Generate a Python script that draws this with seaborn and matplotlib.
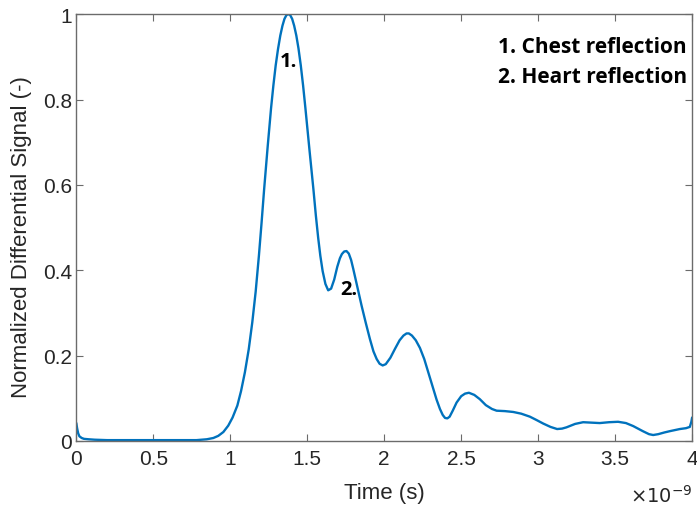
import numpy as np
import pandas as pd
import matplotlib
matplotlib.use("Agg")
import matplotlib.pyplot as plt
import seaborn as sns

# Time axis in units of 1e-9 s and the normalized differential signal
time_ns = [
    0.000, 0.005, 0.012, 0.020, 0.035, 0.050, 0.080, 0.120, 0.200, 0.300,
    0.400, 0.500, 0.600, 0.700, 0.780, 0.847, 0.890, 0.922, 0.955, 0.987,
    1.015, 1.046, 1.070, 1.095, 1.120, 1.143, 1.165, 1.186, 1.203, 1.220,
    1.243, 1.265, 1.280, 1.295, 1.310, 1.325, 1.339, 1.352, 1.365, 1.377,
    1.389, 1.402, 1.415, 1.429, 1.443, 1.458, 1.473, 1.488, 1.502, 1.515,
    1.528, 1.540, 1.556, 1.571, 1.585, 1.600, 1.618, 1.636, 1.655, 1.675,
    1.695, 1.712, 1.725, 1.740, 1.755, 1.770, 1.785, 1.799, 1.826, 1.853,
    1.880, 1.907, 1.930, 1.951, 1.970, 1.990, 2.010, 2.040, 2.070, 2.100,
    2.125, 2.145, 2.160, 2.180, 2.205, 2.232, 2.260, 2.286, 2.313, 2.340,
    2.362, 2.380, 2.395, 2.410, 2.425, 2.445, 2.470, 2.500, 2.525, 2.550,
    2.585, 2.621, 2.660, 2.700, 2.730, 2.784, 2.838, 2.890, 2.946, 2.990,
    3.032, 3.080, 3.123, 3.155, 3.184, 3.240, 3.292, 3.346, 3.400, 3.460,
    3.519, 3.570, 3.617, 3.680, 3.720, 3.747, 3.780, 3.820, 3.855, 3.920,
    3.960, 3.985, 3.995, 4.000,
]
signal = [
    0.042, 0.030, 0.018, 0.011, 0.007, 0.005, 0.004, 0.003, 0.002, 0.002,
    0.002, 0.002, 0.002, 0.002, 0.002, 0.004, 0.007, 0.012, 0.021, 0.036,
    0.055, 0.083, 0.117, 0.161, 0.215, 0.278, 0.350, 0.434, 0.510, 0.590,
    0.690, 0.780, 0.833, 0.880, 0.918, 0.950, 0.973, 0.989, 0.998, 1.000,
    0.998, 0.989, 0.973, 0.950, 0.920, 0.880, 0.833, 0.780, 0.727, 0.680,
    0.633, 0.590, 0.528, 0.476, 0.434, 0.398, 0.368, 0.353, 0.357, 0.378,
    0.408, 0.428, 0.438, 0.444, 0.445, 0.439, 0.424, 0.403, 0.360, 0.317,
    0.277, 0.239, 0.210, 0.192, 0.181, 0.177, 0.180, 0.195, 0.216, 0.236,
    0.247, 0.252, 0.252, 0.247, 0.236, 0.218, 0.192, 0.161, 0.128, 0.097,
    0.075, 0.061, 0.054, 0.053, 0.057, 0.071, 0.090, 0.105, 0.111, 0.113,
    0.108, 0.098, 0.084, 0.075, 0.071, 0.070, 0.068, 0.064, 0.057, 0.049,
    0.041, 0.033, 0.028, 0.029, 0.032, 0.040, 0.044, 0.043, 0.042, 0.044,
    0.045, 0.042, 0.035, 0.023, 0.016, 0.014, 0.016, 0.020, 0.023, 0.028,
    0.030, 0.033, 0.045, 0.055,
]

x_ticks = [0, 0.5, 1, 1.5, 2, 2.5, 3, 3.5, 4]
x_tick_labels = ["0", "0.5", "1", "1.5", "2", "2.5", "3", "3.5", "4"]
y_ticks = [0, 0.2, 0.4, 0.6, 0.8, 1]
y_tick_labels = ["0", "0.2", "0.4", "0.6", "0.8", "1"]

peak_labels = ["1.", "2."]
peak_label_pos = [(1.375, 0.89), (1.77, 0.355)]
legend_lines = ["1. Chest reflection", "2. Heart reflection"]

sns.set_theme(style="ticks")
plt.rcParams["font.family"] = ["Liberation Sans", "DejaVu Sans"]

axis_color = "#6b6b6b"
text_color = "#262626"

fig = plt.figure(figsize=(6.97, 5.06), dpi=100)
ax = fig.add_axes([0.1095, 0.1265, 0.8835, 0.8435])

df = pd.DataFrame({"t": time_ns, "s": signal})
sns.lineplot(data=df, x="t", y="s", ax=ax, color="#0072BD", linewidth=1.7,
             sort=False, estimator=None)

ax.set_xlim(0, 4)
ax.set_ylim(0, 1)
ax.set_xticks(x_ticks)
ax.set_xticklabels(x_tick_labels)
ax.set_yticks(y_ticks)
ax.set_yticklabels(y_tick_labels)

for side in ["left", "right", "top", "bottom"]:
    ax.spines[side].set_visible(True)
    ax.spines[side].set_color(axis_color)
    ax.spines[side].set_linewidth(1.0)

ax.tick_params(axis="both", which="major", direction="in", length=5,
               width=0.8, color=axis_color, labelsize=15,
               labelcolor=text_color, top=True, right=True)
ax.tick_params(axis="y", pad=3)
ax.tick_params(axis="x", pad=6)

ax.set_xlabel("Time (s)", fontsize=16, color=text_color)
ax.set_ylabel("Normalized Differential Signal (-)", fontsize=16,
              color=text_color)
ax.xaxis.set_label_coords(0.5, -0.095)
ax.yaxis.set_label_coords(-0.072, 0.48)

# Exponent of the time axis, placed under the right end of the axis
ax.text(1.0, -0.1, r"$\times10^{-9}$", transform=ax.transAxes,
        ha="right", va="top", fontsize=14, color=text_color)

bold_font = ["Open Sans", "DejaVu Sans"]
for lab, (px, py) in zip(peak_labels, peak_label_pos):
    ax.text(px, py, lab, ha="center", va="center", fontsize=14.5,
            fontweight="bold", family=bold_font, color="black")

for i, line in enumerate(legend_lines):
    ax.text(0.685, 0.925 - i * 0.07, line, transform=ax.transAxes,
            ha="left", va="center", fontsize=15, fontweight="bold",
            family=bold_font, color="black")

fig.savefig("out.png", dpi=100)
